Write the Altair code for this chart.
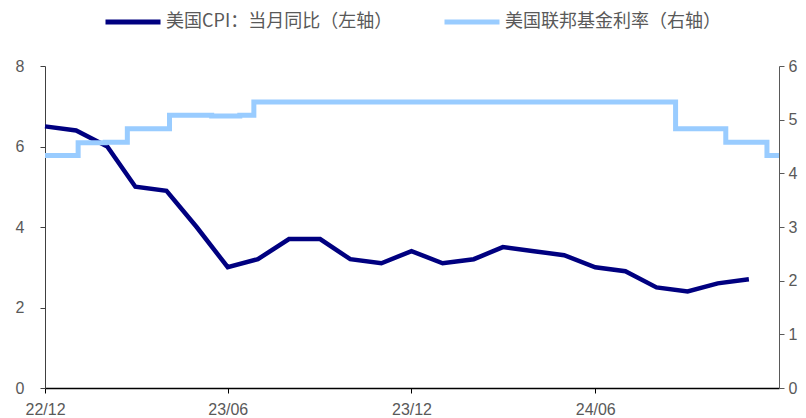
import altair as alt
import pandas as pd

# ---- data ----
series_names = ["美国CPI：当月同比（左轴）", "美国联邦基金利率（右轴）"]
series_colors = ["#000080", "#99CCFF"]

cpi_months = [
    "2022-12-01",
    "2023-01-01", "2023-02-01", "2023-03-01", "2023-04-01", "2023-05-01", "2023-06-01",
    "2023-07-01", "2023-08-01", "2023-09-01", "2023-10-01", "2023-11-01", "2023-12-01",
    "2024-01-01", "2024-02-01", "2024-03-01", "2024-04-01", "2024-05-01", "2024-06-01",
    "2024-07-01", "2024-08-01", "2024-09-01", "2024-10-01", "2024-11-01",
]
cpi_values = [6.5, 6.4, 6.0, 5.0, 4.9, 4.0, 3.0, 3.2, 3.7, 3.7, 3.2, 3.1, 3.4,
              3.1, 3.2, 3.5, 3.4, 3.3, 3.0, 2.9, 2.5, 2.4, 2.6, 2.7]

rate_dates = ["2022-12-31", "2023-02-02", "2023-03-01", "2023-03-23", "2023-05-04",
              "2023-06-15", "2023-07-13", "2023-07-27", "2024-09-19", "2024-11-08",
              "2024-12-19", "2024-12-31"]
rate_values = [4.33, 4.57, 4.58, 4.83, 5.08, 5.07, 5.08, 5.33, 4.83, 4.58, 4.33, 4.33]

x_tick_dates = [(2022, 12), (2023, 6), (2023, 12), (2024, 6)]
left_ticks = [0, 2, 4, 6, 8]
right_ticks = [0, 1, 2, 3, 4, 5, 6]

cpi_df = pd.DataFrame({"date": cpi_months, "value": cpi_values, "series": series_names[0]})
rate_df = pd.DataFrame({"date": rate_dates, "value": rate_values, "series": series_names[1]})

LABEL_FONT = "Liberation Sans"
LABEL_COLOR = "#595959"

color_enc = alt.Color(
    "series:N",
    scale=alt.Scale(domain=series_names, range=series_colors),
    legend=alt.Legend(
        title=None,
        orient="none",
        legendX=58,
        legendY=-74,
        direction="horizontal",
        symbolType="stroke",
        symbolSize=3025,
        symbolStrokeWidth=5,
        labelFont="Noto Sans CJK SC",
        labelFontSize=18,
        labelColor=LABEL_COLOR,
        labelLimit=400,
        labelOffset=3,
        columnPadding=41,
    ),
)

cpi_chart = alt.Chart(cpi_df).mark_line(strokeWidth=4.5).encode(
    x=alt.X(
        "date:T",
        scale=alt.Scale(domain=[alt.DateTime(year=2022, month=12, date=1),
                                alt.DateTime(year=2024, month=12, date=1)], nice=False),
        axis=alt.Axis(
            title=None,
            values=[alt.DateTime(year=y, month=m, date=1) for y, m in x_tick_dates],
            format="%y/%m",
            grid=False,
            labelFlush=False,
            domainColor="#000000",
            domainWidth=1.5,
            tickColor="#000000",
            tickSize=5,
            labelFont=LABEL_FONT,
            labelFontSize=16,
            labelColor=LABEL_COLOR,
            labelPadding=8,
        ),
    ),
    y=alt.Y(
        "value:Q",
        scale=alt.Scale(domain=[0, 8], nice=False),
        axis=alt.Axis(
            title=None,
            orient="left",
            values=left_ticks,
            grid=False,
            domainColor="#404040",
            tickColor="#404040",
            tickSize=5,
            labelFont=LABEL_FONT,
            labelFontSize=16,
            labelColor=LABEL_COLOR,
            labelPadding=16,
        ),
    ),
    color=color_enc,
)

rate_chart = alt.Chart(rate_df).mark_line(strokeWidth=5, interpolate="step-after").encode(
    x=alt.X(
        "date:T",
        scale=alt.Scale(domain=[alt.DateTime(year=2022, month=12, date=31),
                                alt.DateTime(year=2024, month=12, date=31)], nice=False),
        axis=None,
    ),
    y=alt.Y(
        "value:Q",
        scale=alt.Scale(domain=[0, 6], nice=False),
        axis=alt.Axis(
            title=None,
            orient="right",
            values=right_ticks,
            grid=False,
            domainColor="#595959",
            tickColor="#595959",
            tickSize=5,
            labelFont=LABEL_FONT,
            labelFontSize=16,
            labelColor=LABEL_COLOR,
            labelPadding=4,
        ),
    ),
    color=color_enc,
)

chart = alt.layer(cpi_chart, rate_chart).resolve_scale(
    x="independent", y="independent"
).properties(
    width=734,
    height=322,
    autosize=alt.AutoSizeParams(type="none"),
    padding={"left": 37, "top": 58, "right": 19, "bottom": 30},
).configure_view(stroke=None)

chart.save("out.html", embed_options={"renderer": "svg", "actions": False})
